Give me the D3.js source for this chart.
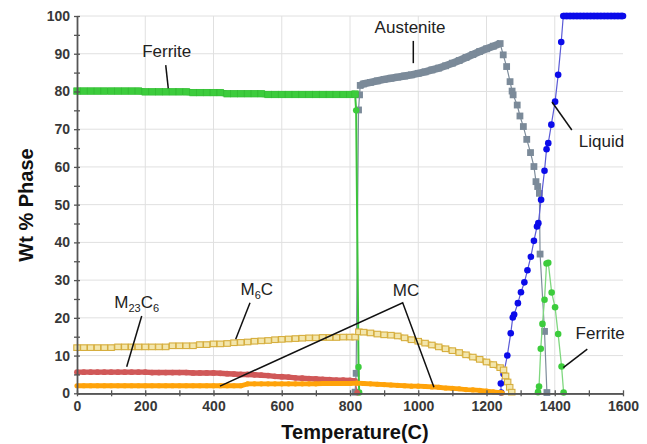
<!DOCTYPE html>
<html><head><meta charset="utf-8">
<script src="https://cdn.jsdelivr.net/npm/d3@7"></script>
<style>body{margin:0;background:#fff}svg{display:block}text{font-family:"Liberation Sans",Arial,sans-serif}</style>
</head><body><svg id="c" width="647" height="444"></svg>
<script>
// ---- tick labels ----
const xTicks=[0,200,400,600,800,1000,1200,1400,1600];
const xMinor=[100,300,500,700,900,1100,1300,1500];
const yTicks=[0,10,20,30,40,50,60,70,80,90,100];
const yMinor=[5,15,25,35,45,55,65,75,85,95];

// ---- series: [temperature (C), wt % phase] ----
const ferriteLow=[[0,80.1],[20,80.1],[40,80.1],[60,80.1],[80,80.1],[100,80.1],[120,80.1],[140,80.1],[160,80.1],[180,80.1],
[200,79.9],[220,79.9],[240,79.9],[260,79.9],[280,79.9],[300,79.9],[320,79.9],[340,79.7],[360,79.7],[380,79.7],[400,79.7],[420,79.7],
[440,79.4],[460,79.4],[480,79.4],[500,79.4],[520,79.4],[540,79.4],[560,79.2],[580,79.2],[600,79.2],[620,79.2],[640,79.2],[660,79.2],
[680,79.2],[700,79.2],[720,79.2],[740,79.2],[760,79.2],[780,79.2],[800,79.2],[815,79.3],[818,75.0],[825,7.0],[827,0.2]];
const austenite=[[815,0.3],[818,5.3],[825,75.1],[828,79.1],[830,81.6],[840,82.0],[860,82.4],[880,82.8],[900,83.2],[920,83.5],
[940,83.8],[960,84.1],[980,84.4],[1000,84.8],[1020,85.2],[1040,85.7],[1060,86.2],[1080,86.8],[1100,87.5],[1120,88.2],[1140,89.0],
[1160,89.8],[1180,90.6],[1200,91.3],[1220,92.0],[1240,92.7],[1249,89.7],[1259,86.6],[1269,82.6],[1275,80.1],[1278,79.1],[1290,76.4],
[1298,73.5],[1308,70.7],[1318,67.3],[1329,63.8],[1339,60.1],[1345,56.1],[1350,54.8],[1355,53.0],[1357,36.9],[1370,16.4],[1377,0.2]];
const liquid=[[1243,0.2],[1242,2.6],[1250,5.1],[1261,10.0],[1271,15.9],[1277,20.1],[1281,20.9],[1292,23.9],[1301,26.8],[1311,29.4],
[1320,32.6],[1330,36.2],[1339,40.4],[1348,44.2],[1352,45.1],[1360,51.3],[1370,59.0],[1376,64.7],[1381,66.3],[1390,71.2],[1401,77.3],
[1410,84.4],[1419,93.1],[1425,100],[1435,100],[1445,100],[1455,100],[1465,100],[1475,100],[1485,100],[1495,100],[1505,100],
[1515,100],[1525,100],[1535,100],[1545,100],[1555,100],[1565,100],[1575,100],[1585,100],[1595,100],[1600,100]];
const ferriteHigh=[[1351,0.3],[1354,1.8],[1359,11.8],[1364,18.4],[1370,24.8],[1376,34.4],[1381,34.6],[1391,26.7],[1401,22.8],
[1410,15.7],[1420,7.1],[1426,0.2]];
const m6c=[[0,12.1],[20,12.1],[40,12.1],[60,12.1],[80,12.1],[100,12.1],[120,12.3],[140,12.3],[160,12.3],[180,12.3],[200,12.3],
[220,12.3],[240,12.3],[260,12.3],[280,12.6],[300,12.6],[320,12.6],[340,12.6],[360,12.9],[380,12.9],[400,13.1],[420,13.1],[440,13.2],
[460,13.4],[480,13.5],[500,13.6],[520,13.8],[540,13.9],[560,14.0],[580,14.2],[600,14.3],[620,14.4],[640,14.5],[660,14.6],[680,14.7],
[700,14.7],[720,14.8],[740,14.8],[760,14.8],[780,14.9],[800,14.9],[815,14.9],[826,16.3],[840,16.2],[860,16.0],[880,15.7],[900,15.5],
[920,15.4],[940,15.2],[960,14.7],[980,14.2],[1000,13.8],[1020,13.3],[1040,12.8],[1060,12.3],[1080,11.8],[1100,11.3],[1120,10.8],
[1140,10.2],[1160,9.6],[1180,9.0],[1200,8.3],[1220,7.6],[1240,6.8],[1250,6.2],[1256,4.6],[1262,3.0],[1268,1.6],[1274,0.3]];
const m23c6=[[0,5.6],[20,5.6],[40,5.6],[60,5.6],[80,5.6],[100,5.6],[120,5.6],[140,5.6],[160,5.6],[180,5.6],[200,5.6],[220,5.5],
[240,5.5],[260,5.5],[280,5.5],[300,5.5],[320,5.5],[340,5.4],[360,5.4],[380,5.4],[400,5.4],[420,5.3],[440,5.2],[460,5.1],[480,5.0],
[500,5.0],[520,4.9],[540,4.8],[560,4.7],[580,4.5],[600,4.4],[620,4.3],[640,4.1],[660,4.0],[680,3.9],[700,3.8],[720,3.7],[740,3.6],
[760,3.5],[780,3.5],[800,3.4],[815,3.3],[821,0.2]];
const mc=[[0,2.0],[20,2.0],[40,2.0],[60,2.0],[80,2.0],[100,2.0],[120,2.0],[140,2.0],[160,2.0],[180,2.0],[200,2.0],[220,2.0],[240,2.0],
[260,2.0],[280,2.0],[300,2.0],[320,2.0],[340,2.0],[360,2.0],[380,2.0],[400,2.0],[420,2.0],[440,2.0],[460,2.0],[480,2.0],[500,2.5],
[520,2.5],[540,2.5],[560,2.5],[580,2.5],[600,2.5],[620,2.5],[640,2.5],[660,2.5],[680,2.5],[700,2.5],[720,2.6],[740,2.6],[760,2.6],
[780,2.6],[800,2.6],[820,2.7],[840,2.6],[860,2.5],[880,2.4],[900,2.3],[920,2.2],[940,2.1],[960,2.0],[980,1.9],[1000,1.9],[1020,1.8],
[1040,1.7],[1060,1.6],[1080,1.4],[1100,1.3],[1120,1.2],[1140,1.0],[1160,0.9],[1180,0.8],[1200,0.6],[1220,0.4],[1240,0.2],[1246,0.1]];

// ---- annotations (data coordinates) ----
const labels=[
 {t:"Ferrite",x:263,y:89.1,lines:[[[260,87.0],[267.5,80.8]]]},
 {t:"Austenite",x:976,y:95.5,lines:[[[985.5,93.4],[985.5,87.5]]]},
 {t:"Liquid",x:1537,y:65.3,lines:[[[1392,77.2],[1450,69.8]]]},
 {t:"M|23|C|6",x:175,y:22.6,lines:[[[189.6,20.5],[145.6,7.05]]]},
 {t:"M|6|C",x:527,y:26.1,lines:[[[507,24.0],[465,14.3]]]},
 {t:"MC",x:964,y:25.8,lines:[[[419,1.9],[954.4,24.0],[1046,1.6]]]},
 {t:"Ferrite",x:1533,y:14.4,lines:[[[1495.4,11.7],[1425,6.8]]]}
];

const svg=d3.select("#c");
const x=d3.scaleLinear().domain([0,1600]).range([77,623]);
const y=d3.scaleLinear().domain([0,100]).range([393.3,16]);

// grid
svg.append("g").selectAll("line").data(yTicks.slice(1)).join("line")
 .attr("x1",x(0)).attr("x2",x(1600)).attr("y1",d=>y(d)).attr("y2",d=>y(d))
 .attr("stroke","#e0e0e0").attr("stroke-width",1);
svg.append("g").selectAll("line").data(xTicks.slice(1,-1)).join("line")
 .attr("y1",y(0)).attr("y2",y(100)).attr("x1",d=>x(d)).attr("x2",d=>x(d))
 .attr("stroke","#e0e0e0").attr("stroke-width",1);

const line=d3.line().x(d=>x(d[0])).y(d=>y(d[1]));
function series(data,o){
 const g=svg.append("g");
 g.append("path").attr("d",line(data)).attr("fill","none").attr("stroke",o.line).attr("stroke-width",o.lw);
 (o.bands||[]).forEach(b=>{
  g.append("path").attr("d",line(data.slice(b[0],b[1]+1))).attr("fill","none")
   .attr("stroke",o.bandColor||o.fill).attr("stroke-width",o.bw).attr("stroke-linecap","butt");
 });
 const pts=data;
 if(o.shape==="sq"){
  g.selectAll("rect").data(pts).join("rect")
   .attr("x",d=>x(d[0])-(o.w||o.s)/2).attr("y",d=>y(d[1])-o.s/2).attr("width",o.w||o.s).attr("height",o.s)
   .attr("fill",o.fill).attr("stroke",o.stroke||"none").attr("stroke-width",o.sw||0);
 } else {
  g.selectAll("circle").data(pts).join("circle")
   .attr("cx",d=>x(d[0])).attr("cy",d=>y(d[1])).attr("r",o.s/2)
   .attr("fill",o.fill).attr("stroke",o.stroke||"none").attr("stroke-width",o.sw||0);
 }
 return g;
}
series(austenite,{line:"#7d8c9b",lw:1.2,shape:"sq",s:6.8,fill:"#7b8a99",bands:[[4,25]],bw:7.5});
// low-temperature ferrite: squares on the plateau, circles on the drop
const fg=svg.append("g");
fg.append("path").attr("d",line(ferriteLow)).attr("fill","none").attr("stroke","#3cc43c").attr("stroke-width",2);
fg.append("path").attr("d",line(ferriteLow.slice(0,42))).attr("fill","none").attr("stroke","#3ccc3c").attr("stroke-width",6.5);
fg.selectAll("rect").data(ferriteLow.slice(0,42)).join("rect")
 .attr("x",d=>x(d[0])-3.3).attr("y",d=>y(d[1])-3.3).attr("width",6.6).attr("height",6.6).attr("fill","#3ccc3c")
 .attr("stroke","#33bb33").attr("stroke-width",0.6);
fg.selectAll("circle").data(ferriteLow.slice(42)).join("circle")
 .attr("cx",d=>x(d[0])).attr("cy",d=>y(d[1])).attr("r",3.2).attr("fill","#3ccc3c");
series(liquid,{line:"#5a5ad6",lw:1.2,shape:"ci",s:6.6,fill:"#0b0bea",bands:[[23,41]],bw:6.6});
series(ferriteHigh,{line:"#7fd77f",lw:1.3,shape:"ci",s:6.6,fill:"#3ccc3c"});
series(m23c6,{line:"#d05a5a",lw:1.2,shape:"ci",s:5.8,fill:"#d05858",bands:[[0,41]],bw:5.4});
series(mc,{line:"#ffa500",lw:1.2,shape:"ci",s:5.2,fill:"#ffa30a",bands:[[0,65]],bw:4.8});
series(m6c,{line:"#d8b448",lw:1,shape:"sq",s:5.6,w:6.4,fill:"#f3e6ac",stroke:"#d6ae3e",sw:1.1,
 bands:[[0,41],[42,66]],bw:5.6,bandColor:"#e6c86a"});

// axes (crossing ticks)
function ax(gen,tr){const g=svg.append("g").attr("transform",tr).call(gen);
 g.selectAll("path").attr("stroke","#555").attr("stroke-width",1.3);
 g.selectAll("line").attr("stroke","#555").attr("stroke-width",1.3);
 g.selectAll("text").attr("font-size",14).attr("font-weight","bold").attr("fill","#383838")
  .style("font-family",'"Liberation Sans",Arial,sans-serif');return g;}
ax(d3.axisLeft(y).tickValues(yTicks).tickFormat(d3.format("d")).tickSize(3).tickPadding(4).tickSizeOuter(0),`translate(${x(0)},0)`);
ax(d3.axisRight(y).tickValues(yTicks.concat(yMinor)).tickSize(3).tickFormat("").tickSizeOuter(0),`translate(${x(0)},0)`);
ax(d3.axisLeft(y).tickValues(yMinor).tickSize(3).tickFormat("").tickSizeOuter(0),`translate(${x(0)},0)`);
ax(d3.axisBottom(x).tickValues(xTicks).tickFormat(d3.format("d")).tickSize(3).tickPadding(5).tickSizeOuter(0),`translate(0,${y(0)})`);
ax(d3.axisTop(x).tickValues(xTicks.concat(xMinor)).tickSize(3).tickFormat("").tickSizeOuter(0),`translate(0,${y(0)})`);
ax(d3.axisBottom(x).tickValues(xMinor).tickSize(3).tickFormat("").tickSizeOuter(0),`translate(0,${y(0)})`);

// annotations
labels.forEach(l=>{
 l.lines.forEach(pl=>{
  svg.append("path").attr("d",line(pl)).attr("fill","none").attr("stroke","#111").attr("stroke-width",1.5);
 });
 const t=svg.append("text").attr("x",x(l.x)).attr("y",y(l.y)).attr("text-anchor","middle")
  .attr("font-size",17).attr("fill","#222");
 const parts=l.t.split("|");
 parts.forEach((p,i)=>{
  const sub=i%2===1;
  t.append("tspan").text(p).attr("font-size",sub?11:17)
   .attr("dy",i===0?0:(sub?4:-4));
 });
});

// axis titles
svg.append("text").attr("x",(x(0)+x(1600))/2+5).attr("y",439).attr("text-anchor","middle")
 .attr("font-size",20).attr("font-weight","bold").attr("fill","#111").text("Temperature(C)");
svg.append("text").attr("transform",`translate(33,205) rotate(-90)`).attr("text-anchor","middle")
 .attr("font-size",20).attr("font-weight","bold").attr("fill","#111").text("Wt % Phase");
</script></body></html>
